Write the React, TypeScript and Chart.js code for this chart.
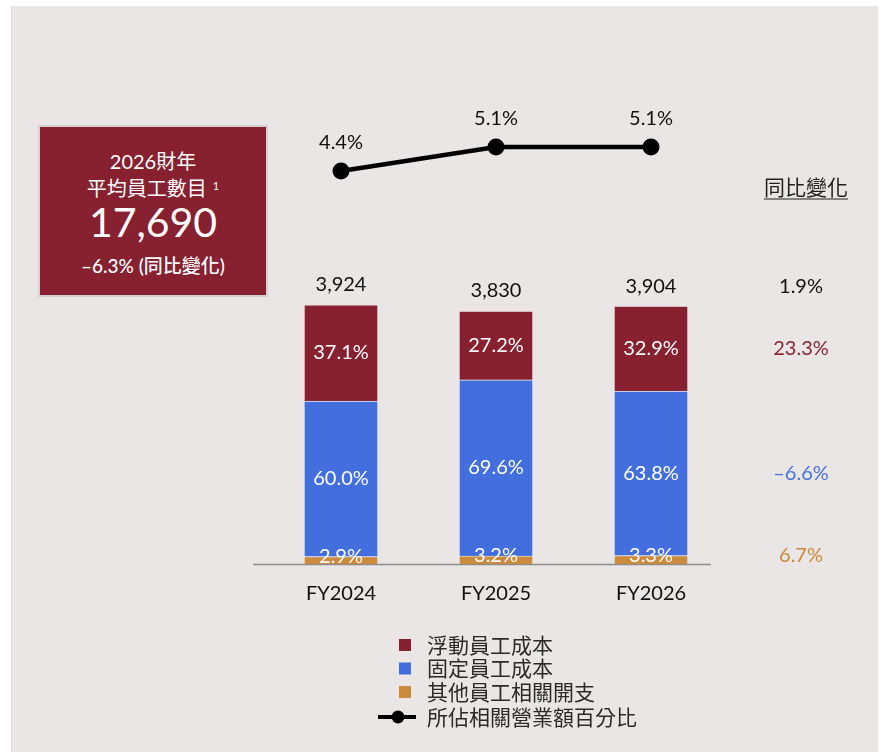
import React, { useEffect, useRef } from "react";
import { Chart, registerables } from "chart.js";

Chart.register(...registerables);

// ---------- data ----------
const categories = ["FY2024", "FY2025", "FY2026"];
const totalStaffCost = [3924, 3830, 3904];
const variableShare = [37.1, 27.2, 32.9];
const fixedShare = [60.0, 69.6, 63.8];
const otherShare = [2.9, 3.2, 3.3];
const revenueShare = [4.4, 5.1, 5.1];
const yoyLabels = ["1.9%", "23.3%", "–6.6%", "6.7%"]; // total, variable, fixed, other
const seriesNames = ["浮動員工成本", "固定員工成本", "其他員工相關開支", "所佔相關營業額百分比"];
const yoyHeader = "同比變化";
const kpiLines = ["2026財年", "平均員工數目", "17,690", "–6.3% (同比變化)"];

// ---------- styles ----------
const FONT = "Lato, 'Noto Sans CJK TC', 'Noto Sans', sans-serif";
const RED = "#87202f";
const BLUE = "#426ede";
const ORANGE = "#cc8a3c";
const PANEL = "#e9e6e5";

const fmt = (n: number) => n.toLocaleString("en-US");
const pctText = (n: number) => n.toFixed(1) + "%";

const variableVals = totalStaffCost.map((t, i) => (t * variableShare[i]) / 100);
const fixedVals = totalStaffCost.map((t, i) => (t * fixedShare[i]) / 100);
const otherVals = totalStaffCost.map((t, i) => (t * otherShare[i]) / 100);

const labelPlugin = {
  id: "customLabels",
  beforeDatasetsDraw(chart: any) {
    const ctx = chart.ctx;
    const x = chart.scales.x;
    const y = chart.scales.y;
    ctx.save();
    ctx.strokeStyle = "#8c8c8c";
    ctx.lineWidth = 1.5;
    ctx.beginPath();
    ctx.moveTo(x.getPixelForValue(0) - 88, y.getPixelForValue(0) + 0.5);
    ctx.lineTo(x.getPixelForValue(2) + 60, y.getPixelForValue(0) + 0.5);
    ctx.stroke();
    ctx.restore();
  },
  afterDatasetsDraw(chart: any) {
    const ctx = chart.ctx;
    ctx.save();
    ctx.textAlign = "center";
    ctx.textBaseline = "middle";
    ctx.font = `20px ${FONT}`;

    const metaOther = chart.getDatasetMeta(0);
    const metaFixed = chart.getDatasetMeta(1);
    const metaVar = chart.getDatasetMeta(2);
    const metaLine = chart.getDatasetMeta(3);

    // totals
    ctx.fillStyle = "#111";
    metaVar.data.forEach((el: any, i: number) => {
      ctx.fillText(fmt(totalStaffCost[i]), el.x, el.y - 20);
    });
    // segment labels
    ctx.fillStyle = "#fff";
    metaVar.data.forEach((el: any, i: number) => {
      ctx.fillText(pctText(variableShare[i]), el.x, (el.y + el.base) / 2);
    });
    metaFixed.data.forEach((el: any, i: number) => {
      ctx.fillText(pctText(fixedShare[i]), el.x, (el.y + el.base) / 2);
    });
    metaOther.data.forEach((el: any, i: number) => {
      ctx.fillText(pctText(otherShare[i]), el.x, (el.y + el.base) / 2 - 4);
    });
    // line labels
    ctx.fillStyle = "#111";
    metaLine.data.forEach((el: any, i: number) => {
      ctx.fillText(pctText(revenueShare[i]), el.x, el.y - 28);
    });

    // YoY column aligned with last bar
    const last = metaVar.data.length - 1;
    const colX = metaVar.data[last].x + 150;
    const vEl = metaVar.data[last];
    const fEl = metaFixed.data[last];
    const oEl = metaOther.data[last];
    const rows = [
      { t: yoyLabels[0], y: vEl.y - 20, c: "#111" },
      { t: yoyLabels[1], y: (vEl.y + vEl.base) / 2, c: "#8b2433" },
      { t: yoyLabels[2], y: (fEl.y + fEl.base) / 2, c: "#4a72dc" },
      { t: yoyLabels[3], y: (oEl.y + oEl.base) / 2 - 4, c: "#c98a40" },
    ];
    rows.forEach((r) => {
      ctx.fillStyle = r.c;
      ctx.fillText(r.t, colX, r.y);
    });
    // header
    ctx.fillStyle = "#222";
    ctx.font = `21px ${FONT}`;
    const hx = colX + 5;
    const hy = 188;
    ctx.fillText(yoyHeader, hx, hy);
    const hw = ctx.measureText(yoyHeader).width;
    ctx.strokeStyle = "#222";
    ctx.lineWidth = 1.2;
    ctx.beginPath();
    ctx.moveTo(hx - hw / 2, hy + 11);
    ctx.lineTo(hx + hw / 2, hy + 11);
    ctx.stroke();

    // legend
    const lx = 405;
    const ly0 = 645;
    const rowH = 23.5;
    const legendItems = [
      { name: seriesNames[0], color: chart.data.datasets[2].backgroundColor, kind: "box" },
      { name: seriesNames[1], color: chart.data.datasets[1].backgroundColor, kind: "box" },
      { name: seriesNames[2], color: chart.data.datasets[0].backgroundColor, kind: "box" },
      { name: seriesNames[3], color: chart.data.datasets[3].borderColor, kind: "line" },
    ];
    ctx.textAlign = "left";
    ctx.font = `21px ${FONT}`;
    legendItems.forEach((it, i) => {
      const yy = ly0 + i * rowH + (i === 3 ? 1.5 : 0);
      if (it.kind === "box") {
        ctx.fillStyle = it.color;
        ctx.fillRect(lx - 6, yy - 6, 12, 12);
      } else {
        ctx.strokeStyle = it.color;
        ctx.lineWidth = 4;
        ctx.beginPath();
        ctx.moveTo(lx - 27, yy);
        ctx.lineTo(lx + 11, yy);
        ctx.stroke();
        ctx.fillStyle = it.color;
        ctx.beginPath();
        ctx.arc(lx - 7, yy, 6.5, 0, Math.PI * 2);
        ctx.fill();
      }
      ctx.fillStyle = "#2a2a2a";
      ctx.fillText(it.name, lx + 22, yy + 1);
    });
    ctx.restore();
  },
};

export default function App() {
  const ref = useRef<HTMLCanvasElement | null>(null);

  useEffect(() => {
    document.body.style.margin = "0";
    if (!ref.current) return;
    Chart.defaults.font.family = FONT;
    const barCommon = {
      type: "bar" as const,
      stack: "cost",
      yAxisID: "y",
      barThickness: 74,
      borderWidth: 1,
      borderColor: "rgba(255,255,255,0.35)",
    };
    const chart = new Chart(ref.current, {
      type: "bar",
      data: {
        labels: categories,
        datasets: [
          { ...barCommon, label: seriesNames[2], data: otherVals, backgroundColor: ORANGE },
          { ...barCommon, label: seriesNames[1], data: fixedVals, backgroundColor: BLUE },
          { ...barCommon, label: seriesNames[0], data: variableVals, backgroundColor: RED },
          {
            type: "line",
            label: seriesNames[3],
            data: revenueShare,
            yAxisID: "y2",
            borderColor: "#000",
            backgroundColor: "#000",
            borderWidth: 4.5,
            pointRadius: 8.5,
            pointBackgroundColor: "#000",
            pointBorderWidth: 0,
            fill: false,
            tension: 0,
          } as any,
        ],
      },
      options: {
        animation: false,
        responsive: false,
        maintainAspectRatio: false,
        layout: { padding: { left: 263.5, right: 150.5, top: 100, bottom: 136 } },
        plugins: { legend: { display: false }, tooltip: { enabled: false } },
        scales: {
          x: {
            stacked: true,
            grid: { display: false },
            border: { display: false },
            ticks: { color: "#111", font: { size: 20 }, padding: 10 },
          },
          y: { stacked: true, display: false, min: 0, max: 7025 },
          y2: { display: false, min: -7.06, max: 6.47 },
        },
      },
      plugins: [labelPlugin],
    });
    return () => chart.destroy();
  }, []);

  return (
    <div style={{ position: "absolute", left: 0, top: 0, width: 879, height: 752, background: "#fff", overflow: "hidden" }}>
      <div style={{ position: "absolute", left: 11, top: 6, width: 867, height: 746, background: PANEL, borderLeft: "1px solid #dcd8d7", boxSizing: "border-box" }} />
      <canvas ref={ref} width={879} height={752} style={{ position: "absolute", left: 0, top: 0 }} />
      <div
        style={{
          position: "absolute",
          left: 38,
          top: 125,
          width: 230,
          height: 172,
          boxSizing: "border-box",
          border: "2px solid #d3d0cf",
          background: RED,
          color: "#fff",
          fontFamily: FONT,
          textAlign: "center",
        }}
      >
        <div style={{ position: "absolute", left: 0, right: 0, top: 22, fontSize: 20, lineHeight: "24px" }}>{kpiLines[0]}</div>
        <div style={{ position: "absolute", left: 0, right: 0, top: 47, fontSize: 20, lineHeight: "24px" }}>
          {kpiLines[1]}
          <sup style={{ fontSize: 11, marginLeft: 6, verticalAlign: "6px" }}>1</sup>
        </div>
        <div style={{ position: "absolute", left: 0, right: 0, top: 72, fontSize: 41, lineHeight: "46px", fontWeight: 400 }}>{kpiLines[2]}</div>
        <div style={{ position: "absolute", left: 0, right: 0, top: 127, fontSize: 19, lineHeight: "24px", fontWeight: 500 }}>{kpiLines[3]}</div>
      </div>
    </div>
  );
}
